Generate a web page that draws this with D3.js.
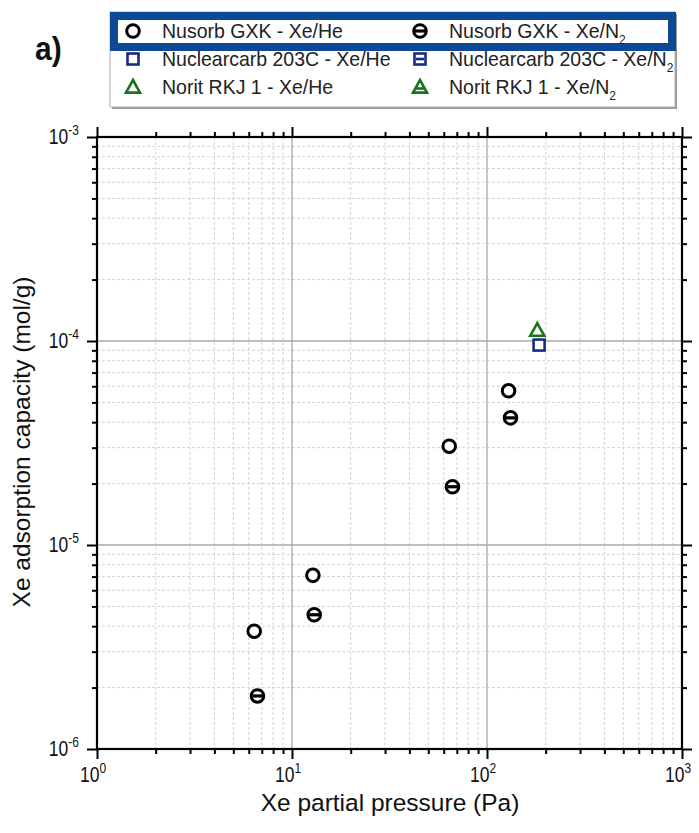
<!DOCTYPE html>
<html>
<head>
<meta charset="utf-8">
<script src="https://cdn.jsdelivr.net/npm/d3@7"></script>
<style>
  html, body { margin: 0; padding: 0; background: #fff; }
  svg { display: block; font-family: "Liberation Sans", Arial, sans-serif; }
</style>
</head>
<body>
<svg id="chart" width="699" height="833"></svg>
<script>
// ---- data ----
const nusorbHePressure = [6.4, 12.8, 64, 129];
const nusorbHeCapacity = [3.78e-6, 7.1e-6, 3.05e-5, 5.7e-5];
const nusorbN2Pressure = [6.65, 13.0, 66.5, 132];
const nusorbN2Capacity = [1.82e-6, 4.55e-6, 1.93e-5, 4.2e-5];
const nuclearHePressure = [185];
const nuclearHeCapacity = [9.55e-5];
const nuclearN2Pressure = [];
const nuclearN2Capacity = [];
const noritHePressure = [181];
const noritHeCapacity = [1.13e-4];
const noritN2Pressure = [];
const noritN2Capacity = [];

const xTickExponents = [0, 1, 2, 3];
const yTickExponents = [-6, -5, -4, -3];
const legendLabels = [
  ["Nusorb GXK - Xe/He", "Nusorb GXK - Xe/N", "2"],
  ["Nuclearcarb 203C - Xe/He", "Nuclearcarb 203C - Xe/N", "2"],
  ["Norit RKJ 1 - Xe/He", "Norit RKJ 1 - Xe/N", "2"]
];
const xTitle = "Xe partial pressure (Pa)";
const yTitle = "Xe adsorption capacity (mol/g)";
const panelLabel = "a)";

// ---- layout ----
const svg = d3.select("#chart");
const L = 97, R = 682, T = 137, B = 749;
const x = d3.scaleLog().domain([1, 1000]).range([L, R]);
const y = d3.scaleLog().domain([1e-6, 1e-3]).range([B, T]);

const blk = "#000", navy = "#1a2a80", green = "#1b741b", legendBlue = "#0c4a96";

const xMinor = [], yMinor = [];
for (let e = 0; e < 3; e++) for (let m = 2; m <= 9; m++) xMinor.push(m * Math.pow(10, e));
for (let e = -6; e < -3; e++) for (let m = 2; m <= 9; m++) yMinor.push(m * Math.pow(10, e));
const xMajor = xTickExponents.map(e => Math.pow(10, e));
const yMajor = yTickExponents.map(e => Math.pow(10, e));

const grid = svg.append("g");
grid.selectAll(".xm").data(xMinor).join("line")
  .attr("x1", d => x(d)).attr("x2", d => x(d)).attr("y1", T).attr("y2", B)
  .attr("stroke", "#d4d4d4").attr("stroke-width", 1).attr("stroke-dasharray", "3,2");
grid.selectAll(".ym").data(yMinor).join("line")
  .attr("y1", d => y(d)).attr("y2", d => y(d)).attr("x1", L).attr("x2", R)
  .attr("stroke", "#d4d4d4").attr("stroke-width", 1).attr("stroke-dasharray", "3,2");
grid.selectAll(".xM").data(xMajor.slice(1, -1)).join("line")
  .attr("x1", d => x(d)).attr("x2", d => x(d)).attr("y1", T).attr("y2", B)
  .attr("stroke", "#a8a8a8").attr("stroke-width", 1.3);
grid.selectAll(".yM").data(yMajor.slice(1, -1)).join("line")
  .attr("y1", d => y(d)).attr("y2", d => y(d)).attr("x1", L).attr("x2", R)
  .attr("stroke", "#a8a8a8").attr("stroke-width", 1.3);

function styleAxis(g) {
  g.select(".domain").remove();
  g.selectAll(".tick line").attr("stroke", blk).attr("stroke-width", 2);
  g.selectAll(".tick text").remove();
}
const xTicksAll = xMajor.concat(xMinor);
const yTicksAll = yMajor.concat(yMinor);
function tickLen(v) { return Math.abs(Math.log10(v) - Math.round(Math.log10(v))) < 1e-9 ? 10 : 5; }

[["bottom", B], ["top", T]].forEach(([side, pos]) => {
  const ax = (side === "bottom" ? d3.axisBottom(x) : d3.axisTop(x)).tickValues(xTicksAll).tickSizeOuter(0).tickSizeInner(0);
  const g = svg.append("g").attr("transform", `translate(0,${pos})`).call(ax);
  styleAxis(g);
  g.selectAll(".tick line").attr("y2", d => (side === "bottom" ? 1 : -1) * tickLen(d));
});
[["left", L], ["right", R]].forEach(([side, pos]) => {
  const ax = (side === "left" ? d3.axisLeft(y) : d3.axisRight(y)).tickValues(yTicksAll).tickSizeOuter(0).tickSizeInner(0);
  const g = svg.append("g").attr("transform", `translate(${pos},0)`).call(ax);
  styleAxis(g);
  g.selectAll(".tick line").attr("x2", d => (side === "left" ? -1 : 1) * tickLen(d));
});
svg.append("rect").attr("x", L).attr("y", T).attr("width", R - L).attr("height", B - T)
  .attr("fill", "none").attr("stroke", blk).attr("stroke-width", 2.2);

// tick labels (slightly tall glyphs as in the reference)
const xl = svg.append("g").attr("font-size", 17.5).attr("fill", "#111");
xTickExponents.forEach(e => {
  const t = xl.append("text").attr("transform", `translate(${x(Math.pow(10, e)) - 4},782) scale(1,1.25)`).attr("text-anchor", "middle");
  t.append("tspan").text("10");
  t.append("tspan").attr("font-size", 12).attr("dy", -7).text(String(e));
});
const yl = svg.append("g").attr("font-size", 17.5).attr("fill", "#111");
yTickExponents.forEach(e => {
  const t = yl.append("text").attr("transform", `translate(79,${y(Math.pow(10, e)) + 7}) scale(1,1.25)`).attr("text-anchor", "end");
  t.append("tspan").text("10");
  t.append("tspan").attr("font-size", 12).attr("dy", -7).text(String(e));
});

// titles
svg.append("text").attr("x", 390).attr("y", 811).attr("text-anchor", "middle")
  .attr("font-size", 24.5).attr("fill", "#111").text(xTitle);
svg.append("text").attr("transform", `translate(30,442) rotate(-90)`).attr("text-anchor", "middle")
  .attr("font-size", 24.5).attr("fill", "#111").text(yTitle);
svg.append("text").attr("transform", "translate(35,60) scale(1,1.1)").attr("font-size", 30).attr("font-weight", "bold")
  .attr("fill", "#111").text(panelLabel);

function marker(g, shape, cx, cy, color, bar) {
  const sw = shape === "circle" ? 3 : 2.6;
  if (shape === "circle") {
    g.append("circle").attr("cx", cx).attr("cy", cy).attr("r", 6.3).attr("fill", "#fff").attr("stroke", color).attr("stroke-width", sw);
    if (bar) g.append("line").attr("x1", cx - 5).attr("x2", cx + 5).attr("y1", cy).attr("y2", cy).attr("stroke", color).attr("stroke-width", 3.2);
  } else if (shape === "square") {
    g.append("rect").attr("x", cx - 5.5).attr("y", cy - 5.5).attr("width", 11).attr("height", 11).attr("fill", "#fff").attr("stroke", color).attr("stroke-width", sw);
    if (bar) g.append("line").attr("x1", cx - 4).attr("x2", cx + 4).attr("y1", cy).attr("y2", cy).attr("stroke", color).attr("stroke-width", 2.6);
  } else {
    const s = 7;
    const pts = [[cx, cy - s], [cx + s, cy + s * 0.8], [cx - s, cy + s * 0.8]];
    g.append("path").attr("d", "M" + pts.map(p => p.join(",")).join("L") + "Z").attr("fill", "#fff").attr("stroke", color).attr("stroke-width", sw).attr("stroke-linejoin", "miter");
    if (bar) g.append("line").attr("x1", cx - 4).attr("x2", cx + 4).attr("y1", cy + 1.5).attr("y2", cy + 1.5).attr("stroke", color).attr("stroke-width", 2.6);
  }
}

const series = [
  { p: nusorbHePressure, q: nusorbHeCapacity, shape: "circle", color: blk, bar: false },
  { p: nusorbN2Pressure, q: nusorbN2Capacity, shape: "circle", color: blk, bar: true },
  { p: nuclearHePressure, q: nuclearHeCapacity, shape: "square", color: navy, bar: false },
  { p: nuclearN2Pressure, q: nuclearN2Capacity, shape: "square", color: navy, bar: true },
  { p: noritHePressure, q: noritHeCapacity, shape: "triangle", color: green, bar: false },
  { p: noritN2Pressure, q: noritN2Capacity, shape: "triangle", color: green, bar: true }
];
const pts = svg.append("g");
series.forEach(s => s.p.forEach((p, i) => marker(pts, s.shape, x(p), y(s.q[i]), s.color, s.bar)));

// legend
const lg = svg.append("g");
lg.append("rect").attr("x", 112).attr("y", 14).attr("width", 565).attr("height", 95).attr("fill", "#9a9a9a");
lg.append("rect").attr("x", 110).attr("y", 12).attr("width", 565).attr("height", 95).attr("fill", "#fff").attr("stroke", "#b0b0b0").attr("stroke-width", 1);
lg.append("rect").attr("x", 114).attr("y", 16).attr("width", 558).attr("height", 31).attr("fill", "none").attr("stroke", legendBlue).attr("stroke-width", 8);
const rowY = [31, 59, 87];
const colMarkX = [133, 420], colTextX = [162, 449];
const shapes = ["circle", "square", "triangle"], colors = [blk, navy, green];
legendLabels.forEach((row, r) => {
  [0, 1].forEach(c => {
    marker(lg, shapes[r], colMarkX[c], rowY[r], colors[r], c === 1);
    const t = lg.append("text").attr("transform", `translate(${colTextX[c]},${rowY[r] + 6.5}) scale(1,1.08)`).attr("font-size", 19.5).attr("fill", "#222");
    if (c === 0) t.text(row[0]);
    else { t.append("tspan").text(row[1]); t.append("tspan").attr("font-size", 12).attr("dy", 6).text(row[2]); }
  });
});
</script>
</body>
</html>
